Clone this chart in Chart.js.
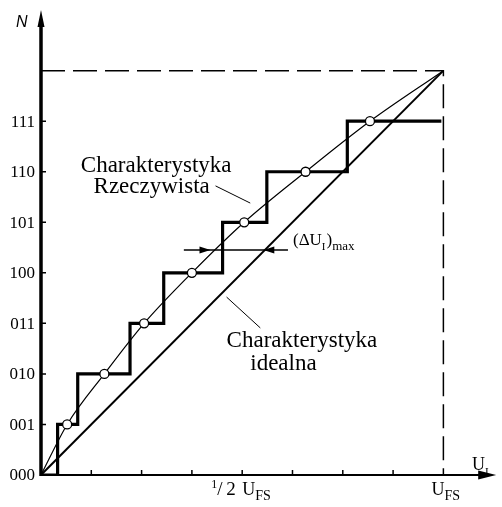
<!DOCTYPE html>
<html>
<head>
<meta charset="utf-8">
<script src="https://cdn.jsdelivr.net/npm/chart.js@4.4.1/dist/chart.umd.min.js"></script>
<style>
  html, body { margin: 0; padding: 0; background: #fff; }
  canvas { display: block; }
</style>
</head>
<body>
<canvas id="adcChart" width="502" height="507"></canvas>
<script>
// Output codes on the N axis (one per LSB level)
const codes = ['000', '001', '010', '011', '100', '101', '110', '111'];
// Input in LSB units, U_FS = 8
const fullScale = 8;
const xTicks = [1, 2, 3, 4, 5, 6, 7];
// Real converter: input where each code begins
const stepStarts = [0, 0.33, 0.73, 1.77, 2.44, 3.61, 4.49, 6.09];
const stepEnd = 7.96;
// Middles of the real steps (the circles)
const midX = [0.52, 1.26, 2.05, 3.0, 4.04, 5.26, 6.54];
const midN = [1, 2, 3, 4, 5, 6, 7];

const serif = '"Liberation Serif", "Times New Roman", serif';

const stairData = stepStarts.map((x, i) => ({ x: x, y: i }));
stairData.push({ x: stepEnd, y: codes.length - 1 });

const circleData = midX.map((x, i) => ({ x: x, y: midN[i] }));
const curveData = [{ x: 0, y: 0 }, ...circleData, { x: fullScale, y: fullScale }];

// Draw a filled arrow head with tip at (tx, ty) pointing along (dx, dy)
function arrowHead(ctx, tx, ty, dx, dy, len, half) {
    const bx = tx - dx * len, by = ty - dy * len;
    ctx.beginPath();
    ctx.moveTo(tx, ty);
    ctx.lineTo(bx - dy * half, by + dx * half);
    ctx.lineTo(bx + dy * half, by - dx * half);
    ctx.closePath();
    ctx.fill();
}

// Text with a subscript after it, returns end x
function textSub(ctx, main, sub, x, y, size, subSize, drop) {
    ctx.font = size + 'px ' + serif;
    ctx.fillText(main, x, y);
    x += ctx.measureText(main).width;
    ctx.font = subSize + 'px ' + serif;
    ctx.fillText(sub, x, y + drop);
    return x + ctx.measureText(sub).width;
}

const sketch = {
    id: 'sketch',
    afterDatasetsDraw(chart) {
        const { ctx, scales: { x, y } } = chart;
        const px = v => x.getPixelForValue(v);
        const py = v => y.getPixelForValue(v);
        const x0 = px(0), y0 = py(0);
        ctx.save();
        ctx.fillStyle = '#000';
        ctx.strokeStyle = '#000';

        // y axis (N)
        ctx.lineWidth = 3.5;
        ctx.beginPath();
        ctx.moveTo(x0, y0 + 1);
        ctx.lineTo(x0, py(y.max) + 12);
        ctx.stroke();
        arrowHead(ctx, x0, py(y.max), 0, -1, 17, 3.5);

        // x axis (U_I)
        ctx.lineWidth = 2;
        ctx.beginPath();
        ctx.moveTo(x0 - 1, y0);
        ctx.lineTo(px(x.max) - 12, y0);
        ctx.stroke();
        arrowHead(ctx, px(x.max), y0, 1, 0, 18, 4.5);

        // ticks
        ctx.lineWidth = 1.5;
        ctx.beginPath();
        codes.forEach((c, i) => {
            if (i > 0) { ctx.moveTo(x0, py(i)); ctx.lineTo(x0 + 5, py(i)); }
        });
        xTicks.forEach(t => { ctx.moveTo(px(t), y0); ctx.lineTo(px(t), y0 - 5); });
        ctx.stroke();

        // code labels
        ctx.font = '17px ' + serif;
        ctx.textAlign = 'right';
        ctx.textBaseline = 'middle';
        codes.forEach((c, i) => ctx.fillText(c, x0 - 6, py(i) + 1));

        ctx.textAlign = 'left';
        ctx.textBaseline = 'alphabetic';

        // axis names
        ctx.font = 'italic 16px "Liberation Sans", Arial, sans-serif';
        ctx.fillText('N', 16, 27);
        textSub(ctx, 'U', 'I', 472, 470, 18, 11, 5);

        // 1/2 U_FS
        let hx = px(fullScale / 2) - 31;
        ctx.font = '12px ' + serif;
        ctx.fillText('1', hx, 488);
        ctx.font = '19px ' + serif;
        ctx.fillText('/', hx + 6, 495);
        ctx.fillText('2', hx + 15, 495);
        textSub(ctx, 'U', 'FS', hx + 31, 495, 18, 14, 5);
        // U_FS
        textSub(ctx, 'U', 'FS', px(fullScale) - 12, 495, 18, 14, 5);

        // curve labels
        ctx.font = '23px ' + serif;
        ctx.textAlign = 'center';
        ctx.fillText('Charakterystyka', px(2.29), py(6.0));
        ctx.fillText('Rzeczywista', px(2.2), py(5.58));
        ctx.textAlign = 'left';
        ctx.fillText('Charakterystyka', px(3.69), py(2.53));
        ctx.fillText('idealna', px(4.16), py(2.08));

        // leader lines
        ctx.lineWidth = 1;
        ctx.beginPath();
        ctx.moveTo(px(3.47), py(5.72)); ctx.lineTo(px(4.16), py(5.38));
        ctx.moveTo(px(3.69), py(3.52)); ctx.lineTo(px(4.36), py(2.91));
        ctx.stroke();

        // (dU_I)max arrows on one continuous line
        const ay = py(4.45);
        ctx.lineWidth = 1.5;
        ctx.beginPath();
        ctx.moveTo(px(2.84), ay); ctx.lineTo(px(4.91), ay);
        ctx.stroke();
        arrowHead(ctx, px(3.37), ay, 1, 0, 11, 3.5);
        arrowHead(ctx, px(4.42), ay, -1, 0, 11, 3.5);

        let tx = px(5.01), ty = py(4.55);
        ctx.font = '17px ' + serif;
        ctx.fillText('(\u0394U', tx, ty);
        tx += ctx.measureText('(\u0394U').width;
        ctx.font = '11px ' + serif;
        ctx.fillText('I', tx, ty + 5);
        tx += ctx.measureText('I').width + 1;
        ctx.font = '17px ' + serif;
        ctx.fillText(')', tx, ty);
        tx += ctx.measureText(')').width;
        ctx.font = '13px ' + serif;
        ctx.fillText('max', tx, ty + 5);

        ctx.restore();
    }
};

const ctx = document.getElementById('adcChart').getContext('2d');
const adcChart = new Chart(ctx, {
    type: 'scatter',
    data: {
        datasets: [
            {
                label: 'midpoints',
                data: circleData,
                showLine: false,
                pointStyle: 'circle',
                pointRadius: 4.5,
                pointBackgroundColor: '#fff',
                pointBorderColor: '#000',
                pointBorderWidth: 1.3
            },
            {
                label: 'real',
                data: curveData,
                showLine: true,
                borderColor: '#000',
                borderWidth: 1.2,
                cubicInterpolationMode: 'monotone',
                pointRadius: 0
            },
            {
                label: 'stairs',
                data: stairData,
                showLine: true,
                stepped: 'before',
                borderColor: '#000',
                borderWidth: 3.2,
                borderJoinStyle: 'miter',
                pointRadius: 0
            },
            {
                label: 'ideal',
                data: [{ x: 0, y: 0 }, { x: fullScale, y: fullScale }],
                showLine: true,
                borderColor: '#000',
                borderWidth: 2,
                pointRadius: 0
            },
            {
                label: 'full scale',
                data: [{ x: 0, y: fullScale }, { x: fullScale, y: fullScale }, { x: fullScale, y: 0 }],
                showLine: true,
                borderColor: '#000',
                borderWidth: 1.5,
                borderDash: [24, 8],
                pointRadius: 0
            }
        ]
    },
    options: {
        responsive: false,
        animation: false,
        devicePixelRatio: 1,
        layout: { padding: { left: 41, right: 2, top: 10, bottom: 32 } },
        scales: {
            x: { type: 'linear', min: 0, max: 9.05, display: false },
            y: { type: 'linear', min: 0, max: 9.2, display: false }
        },
        plugins: {
            legend: { display: false },
            tooltip: { enabled: false }
        }
    },
    plugins: [sketch]
});
</script>
</body>
</html>
